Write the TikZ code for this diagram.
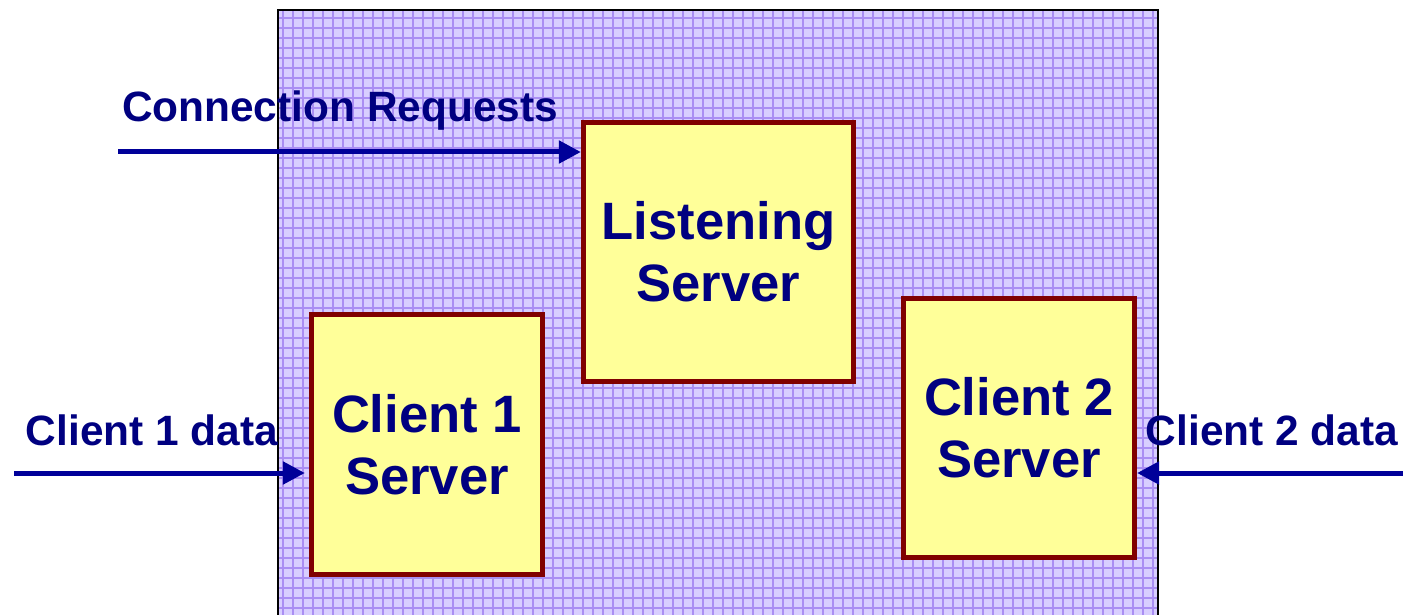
\documentclass[tikz,border=0pt]{standalone}
\usepackage{fontspec}
\setmainfont{Liberation Sans}
\usetikzlibrary{arrows.meta}
\definecolor{navy}{RGB}{0,0,128}
\definecolor{arrowblue}{RGB}{0,0,153}
\definecolor{boxred}{RGB}{128,0,0}
\definecolor{boxfill}{RGB}{255,255,153}
\definecolor{lavender}{RGB}{216,206,255}
\definecolor{gridpurple}{RGB}{170,142,243}
\tikzset{
  server/.style={draw=boxred, line width=2.6pt, fill=boxfill, align=center,
    text=navy, font=\fontsize{26.3}{31}\selectfont\bfseries, inner sep=0pt},
  label/.style={text=navy, font=\fontsize{21.2}{25}\selectfont\bfseries, inner sep=0pt},
  feed/.style={draw=arrowblue, line width=2.5pt,
    -{Triangle[length=11pt,width=11pt]}},
}
\begin{document}
\begin{tikzpicture}[x=0.5pt,y=-0.5pt]
\useasboundingbox (0,0) rectangle (1403,615);

% host machine: gridded lavender panel
\begin{scope}
  \clip (0,0) rectangle (1403,615);
  \fill[lavender] (278,10) rectangle (1158,630);
  \foreach \gx in {283,293,...,1153} {
    \draw[gridpurple, line width=0.65pt] (\gx,10) -- (\gx,630);
  }
  \foreach \gy in {18,28,...,618} {
    \draw[gridpurple, line width=0.65pt] (278,\gy) -- (1158,\gy);
  }
  \draw[black, line width=1.4pt] (278,640) -- (278,10) -- (1158,10) -- (1158,640);
\end{scope}

% server processes
\node[server, minimum width=135pt, minimum height=129.5pt] (listen) at (718.5,252) {Listening\\Server};
\node[server, minimum width=115.5pt, minimum height=130pt] (c1) at (427,444.5) {Client 1\\Server};
\node[server, minimum width=115.5pt, minimum height=129.5pt] (c2) at (1019,428) {Client 2\\Server};

% incoming traffic
\coordinate (creq) at (118,152);
\coordinate (c1src) at (14,473);
\coordinate (c2src) at (1403,473);
\draw[feed] (creq) -- (creq -| listen.west);
\draw[feed] (c1src) -- ([xshift=-2pt]c1src -| c1.west);
\draw[feed] (c2src) -- (c2src -| c2.east);

\node[label] (creqlbl) at (340,111) {Connection Requests};
\node[label] (c1lbl) at (152,430) {Client 1 data};
\node[label] (c2lbl) at (1272,430) {Client 2 data};
\end{tikzpicture}
\end{document}
